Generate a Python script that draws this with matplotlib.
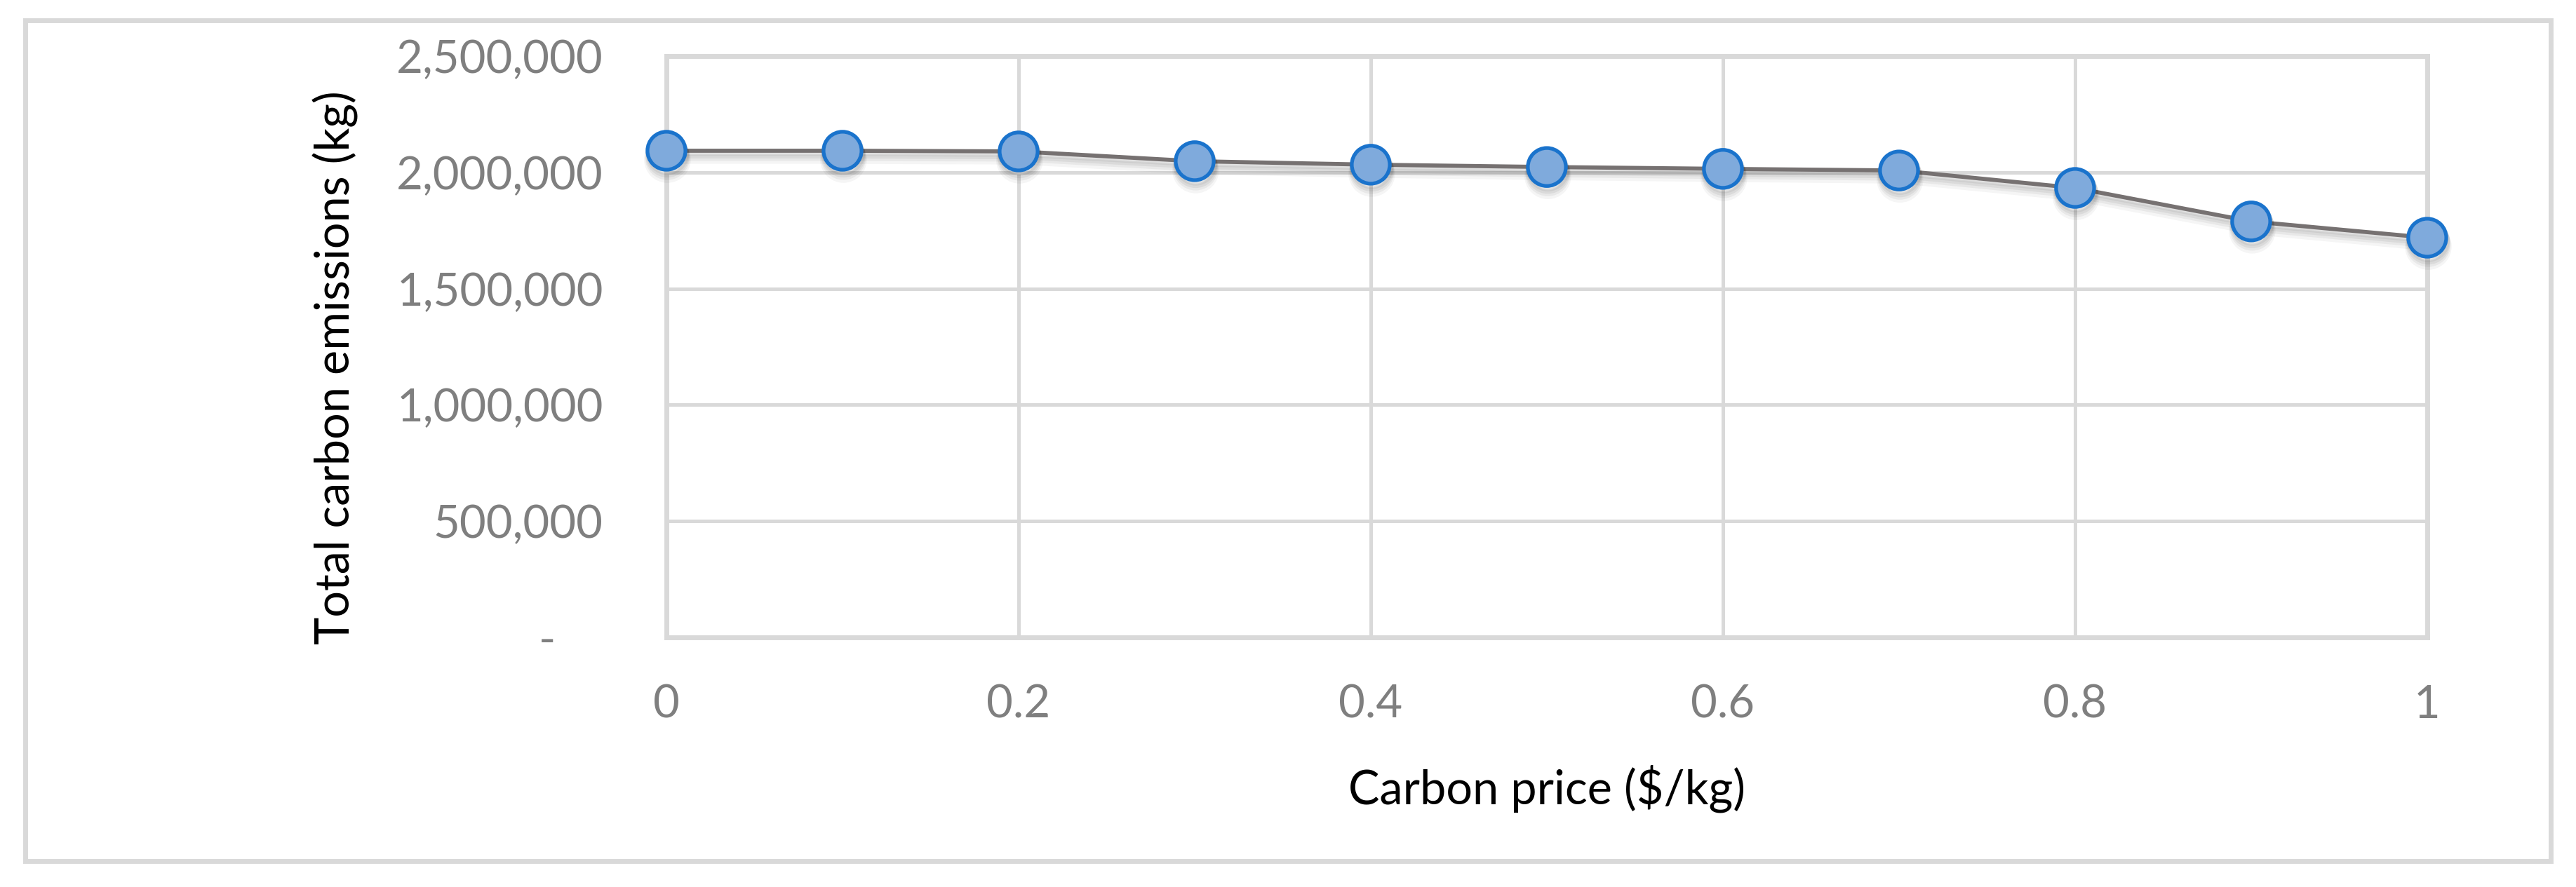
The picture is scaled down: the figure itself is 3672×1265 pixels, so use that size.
"""Total carbon emissions vs carbon price, Excel-style line chart.

Writes out.png
"""

import matplotlib
matplotlib.use("Agg")
import matplotlib.pyplot as plt
import matplotlib.patheffects as pe
from matplotlib.patches import Rectangle
from matplotlib.ticker import FixedLocator, FuncFormatter

carbon_price = [0.0, 0.1, 0.2, 0.3, 0.4, 0.5, 0.6, 0.7, 0.8, 0.9, 1.0]
emissions = [2093000, 2093000, 2090000, 2048000, 2033000, 2023000,
             2015000, 2008000, 1933000, 1789000, 1719000]
y_ticks = [0, 500000, 1000000, 1500000, 2000000, 2500000]
x_ticks = [0, 0.2, 0.4, 0.6, 0.8, 1.0]
x_tick_labels = ["0", "0.2", "0.4", "0.6", "0.8", "1"]

GRID = "#d9d9d9"
TICK = "#7f7f7f"

plt.rcParams["font.family"] = ["Lato", "DejaVu Sans"]


def y_fmt(v, _pos):
    if v == 0:
        return "-    "
    return f"{v:,.0f}"


def main():
    fig = plt.figure(figsize=(36.72, 12.65), dpi=100)
    ax = fig.add_axes([950 / 3672, 1 - 909 / 1265, 2510 / 3672, 829 / 1265])

    # outer chart frame
    fig.patches.append(Rectangle((36 / 3672, 1 - 1228 / 1265), 3600 / 3672, 1199 / 1265,
                                 transform=fig.transFigure, fill=False,
                                 edgecolor=GRID, linewidth=5, zorder=0))

    # soft drop shadow, a few stacked translucent copies
    shadow = [pe.SimpleLineShadow(offset=(1, -o), shadow_color="k", alpha=a, linewidth=w)
              for o, a, w in [(9, 0.04, 9), (7, 0.05, 7), (5, 0.06, 6), (3, 0.06, 5)]]
    ax.plot(carbon_price, emissions, color="#767171", linewidth=4.2,
            marker="o", markersize=39, markerfacecolor="#7faadc",
            markeredgecolor="#1a73cc", markeredgewidth=3.8, zorder=5,
            clip_on=False, path_effects=shadow + [pe.Normal()])

    ax.set_xlim(0, 1)
    ax.set_ylim(0, 2500000)
    ax.xaxis.set_major_locator(FixedLocator(x_ticks))
    ax.set_xticklabels(x_tick_labels)
    ax.yaxis.set_major_locator(FixedLocator(y_ticks))
    ax.yaxis.set_major_formatter(FuncFormatter(y_fmt))

    ax.grid(True, which="major", color=GRID, linewidth=3.6)
    ax.set_axisbelow(True)
    for s in ax.spines.values():
        s.set_color(GRID)
        s.set_linewidth(5)
    ax.tick_params(axis="both", which="both", length=0, labelsize=47, labelcolor=TICK)
    ax.tick_params(axis="y", pad=65)
    ax.tick_params(axis="x", pad=48)

    ax.set_xlabel("Carbon price ($/kg)", fontsize=48, color="black", labelpad=40)
    fig.text(478 / 3672, 1 - 524 / 1265, "Total carbon emissions (kg)", rotation=90,
             fontsize=48, color="black", ha="center", va="center")

    fig.savefig("out.png", dpi=100, facecolor="white")


if __name__ == "__main__":
    main()
